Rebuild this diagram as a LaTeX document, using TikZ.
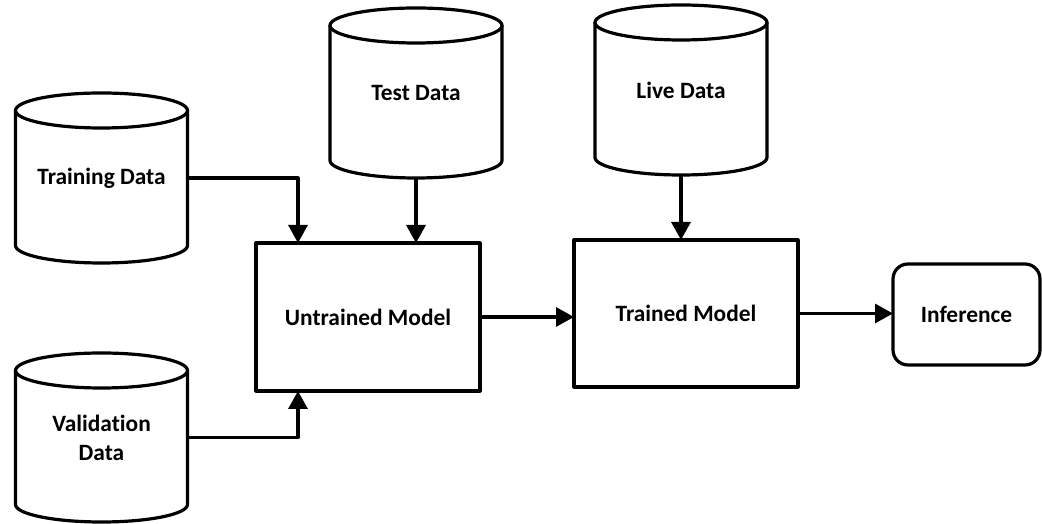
\documentclass[tikz,border=0pt]{standalone}
\usepackage{fontspec}
\setmainfont{Carlito}[Ligatures=NoCommon]
\usetikzlibrary{arrows.meta,calc}

\tikzset{
  stroke/.style={line width=3.2pt, line join=round},
  label/.style={font=\bfseries\fontsize{23.4}{29}\selectfont, align=center},
  cylbody/.style={label, draw=none, inner sep=0pt, outer sep=0pt, minimum width=172pt},
  modelbox/.style={label, stroke, draw, inner sep=0pt, outer sep=0pt},
  flow/.style={stroke, -{Triangle[length=18pt,width=19pt]}},
}

% database cylinder: name, centre x, top y, bottom y, text
\newcommand\dbcyl[5]{%
  \node[cylbody, minimum height={(#3)-(#4)}] (#1) at (#2,{((#3)+(#4))/2}) {#5};
  \draw[stroke] ([yshift=-17.5pt]#1.north west) -- ([yshift=17.5pt]#1.south west)
    arc[start angle=180, end angle=360, x radius=86pt, y radius=17.5pt]
    -- ([yshift=-17.5pt]#1.north east);
  \draw[stroke] ([yshift=-17.5pt]#1.north) ellipse[x radius=86pt, y radius=17.5pt];
}

\begin{document}
\begin{tikzpicture}[x=1pt,y=1pt]
\useasboundingbox (0,0) rectangle (1042,524);

% data stores
\dbcyl{train}{101.5}{431}{261}{Training Data}
\dbcyl{valid}{101.5}{171}{2}{Validation\\Data}
\dbcyl{test}{416}{516}{346}{Test Data}
\dbcyl{live}{681}{519}{349}{Live Data}

% models and output
\node[modelbox, minimum width=224pt, minimum height=148pt] (untr) at (368,207) {Untrained Model};
\node[modelbox, minimum width=224pt, minimum height=147pt] (trained) at (686,210.5) {Trained Model};
\node[modelbox, rounded corners=15pt, minimum width=147pt, minimum height=101pt] (infer) at (966.5,209.5) {Inference};

% entry points on the untrained model
\coordinate (uin1) at ([xshift=42pt]untr.north west);
\coordinate (uin2) at ([xshift=42pt]untr.south west);

% connectors
\draw[flow] (train.east) -| (uin1);
\draw[flow] (valid.east) -| (uin2);
\draw[flow] (test.south) -- (test.south |- untr.north);
\draw[flow] (live.south) -- (live.south |- trained.north);
\draw[flow] (untr.east) -- (untr.east -| trained.west);
\draw[flow] (trained.east) -- (trained.east -| infer.west);
\end{tikzpicture}
\end{document}
